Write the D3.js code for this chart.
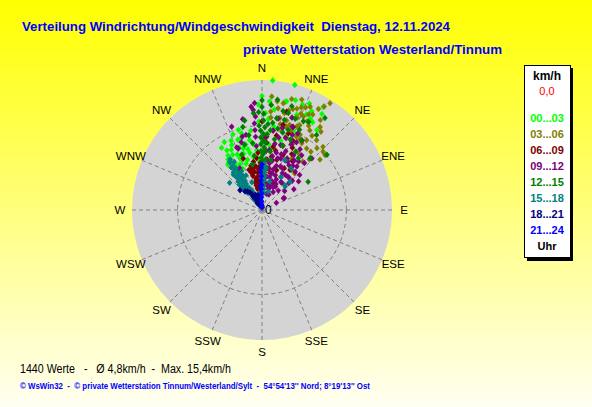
<!DOCTYPE html>
<html>
<head>
<meta charset="utf-8">
<script src="https://cdn.jsdelivr.net/npm/d3@7"></script>
<style>
  body { margin: 0; overflow: hidden; }
  svg { display: block; }
</style>
</head>
<body>
<svg id="chart" width="592" height="407"></svg>
<script>
// compass labels, one every 22.5 degrees
const directions = ['N', 'NNE', 'NE', 'ENE', 'E', 'ESE', 'SE', 'SSE',
                    'S', 'SSW', 'SW', 'WSW', 'W', 'WNW', 'NW', 'NNW']
const legendLabels = ['00...03', '03...06', '06...09', '09...12',
                      '12...15', '15...18', '18...21', '21...24']
const binColors = ['#00ff00', '#808000', '#800000', '#800080',
                   '#008000', '#008080', '#000080', '#0000ff']
const maxSpeed = 15.4
const ringSpeeds = [10]

// [direction in degrees, speed in km/h], per 3 hour block
const h00 = [
  [4.7, 15.4], [14.7, 15.3], [0, 13.5], [4, 12.9], [12, 13.1], [17, 13.6], [26.7, 13.1], [25, 12.5],
  [30.7, 14.2], [26.8, 13.0], [34.4, 11.5], [12.8, 13.2], [343.6, 9.9], [344, 8.9], [350, 8.4],
  [329.5, 8.2], [323, 6.7], [341, 8.8], [343, 7.6], [348, 6.9], [349.5, 5.6], [335, 8.5], [338, 6.4],
  [355, 7.1], [324, 6.8], [337, 6.7], [332, 7.4], [340, 7.9], [346, 8.0], [334, 6.0], [328, 7.6],
  [352, 9.5], [358, 10.5], [3, 9.0], [8, 10.0], [20, 12.0], [22, 10.0], [15, 8.5], [10, 7.5], [356, 6.0],
  [345, 5.0], [2, 11.5], [30, 12.0], [327, 8.8], [331, 9.2], [339, 9.6], [336, 7.2], [344, 6.2],
  [6, 7.8], [18, 9.2], [326, 7.2], [330, 6.4], [333, 8.0], [336, 9.0], [342, 7.0], [347, 7.4],
  [351, 6.4], [353, 7.8], [341, 5.8], [335, 5.4], [329, 5.9], [345, 9.4], [0, 8.0], [4, 10.8],
  [24, 13.8], [28, 12.2], [21, 13.4], [32, 13.4], [7, 12.0], [358, 12.5]
]
const h03 = [
  [4.9, 13.5], [5, 12.5], [5, 11.7], [5.5, 11.0], [11.3, 12.9], [15, 13.6], [19.8, 13.9], [32.5, 15.0],
  [29.2, 13.7], [23.9, 12.1], [22.6, 10.7], [32.6, 9.8], [41.6, 9.8], [46.4, 10.0], [49, 9.1], [25, 8.7],
  [36.6, 5.9], [15.3, 11.0], [11, 11.1], [31, 11.0], [26.9, 10.0], [30.8, 9.2], [44, 10.4], [48.9, 9.9],
  [42, 5.8], [17, 12.5], [21, 13.0], [25, 13.5], [28, 12.8], [18, 11.5], [24, 11.0], [20, 10.0],
  [27, 11.8], [13, 11.8], [9, 12.2], [35, 12.0], [38, 10.5], [22, 12.3], [16, 10.3], [28, 9.5],
  [33, 8.0], [40, 7.5], [19, 9.0], [14, 9.6], [30, 7.0], [36, 9.0], [34, 10.6], [26, 12.6],
  [23, 13.2], [19, 12.7], [15, 12.2], [12, 10.4], [29, 11.4], [33, 12.7], [37, 11.6], [40, 9.0],
  [43, 8.2], [21, 11.7], [25, 9.6], [18, 10.6], [8, 13.0], [31, 14.3]
]
const h06 = [
  [352, 0.8], [352, 1.2], [351, 1.6], [351, 2.0], [350, 2.4], [350, 2.8], [351, 3.2], [352, 3.6],
  [353, 4.0], [354, 4.4], [355, 4.8], [348, 2.6], [347, 3.0], [346, 3.4], [349, 3.8], [345, 4.2],
  [344, 4.6], [356, 3.0], [357, 5.2], [358, 5.6], [342, 5.0], [346, 5.4], [350, 5.8],
  [353, 1.8], [354, 2.4], [355, 3.4], [349, 4.6], [347, 5.0], [352, 5.2], [354, 6.2], [356, 6.8],
  [3.6, 8.7], [13.9, 10.4], [20.6, 10.5], [16.4, 6.2], [10, 7.6], [35, 5.8], [5, 6.0], [8, 5.0],
  [12, 4.5], [20, 5.0], [25, 6.5], [28, 7.5], [18, 8.0], [30, 4.5], [22, 3.5], [15, 3.0], [8, 9.5],
  [0, 10.5], [2, 7.0], [340, 6.5], [330, 5.5], [14, 12.0], [24, 9.0], [32, 6.8], [6, 4.0], [17, 5.2],
  [10, 6.4], [13, 7.2], [21, 7.0], [26, 8.2], [4, 8.0], [11, 9.0], [19, 9.6], [28, 5.6], [7, 3.2]
]
const h09 = [
  [355, 8.7], [355, 9.5], [355, 10.3], [356, 11.1], [355, 11.9], [356, 12.7], [61, 2.9], [63.6, 1.9],
  [38.7, 6.6], [47, 6.1], [10, 5], [12, 6], [14, 7], [16, 8], [18, 9], [20, 6.5], [22, 7.5], [24, 8.5],
  [26, 5.5], [28, 6.5], [30, 7.5], [32, 8.5], [34, 5], [36, 4], [40, 5], [8, 4], [6, 6], [4, 7],
  [15, 4.5], [18, 5.5], [25, 4], [28, 3.5], [20, 3], [12, 3], [45, 4.5], [50, 3.5], [42, 7.5],
  [338, 8], [345, 9], [340, 10.5], [348, 11], [2, 8.5], [8, 9.5], [14, 10], [10, 11], [20, 10.5],
  [30, 9.5], [36, 8.0], [44, 8.5], [52, 5.5], [57, 4.5], [32, 2.5], [40, 3], [5, 3], [24, 2],
  [15, 2], [0, 5.5], [18, 11.5], [25, 10], [354, 12.3], [348, 9.1], [23, 8.9], [38, 5.0],
  [62, 3.0], [339, 7.8], [332, 5.6], [11, 6.5], [19, 7.0], [27, 9.0],
  [13, 4.0], [16, 5.0], [21, 4.4], [23, 5.6], [26, 6.8], [29, 5.0], [31, 6.2], [33, 7.0], [35, 6.4],
  [37, 7.2], [17, 6.4], [19, 3.6], [9, 5.6], [7, 7.2], [11, 8.0], [13, 8.8], [22, 9.6], [26, 3.0],
  [34, 4.0], [41, 6.0], [46, 5.0], [17, 2.6], [30, 3.2], [355, 7.6], [343, 8.4]
]
const h12 = [
  [2, 3.5], [2, 4.2], [2, 5.0], [1, 5.8], [1, 6.6], [2, 7.4], [1, 8.2], [1, 9.0], [2, 9.8], [1, 10.6],
  [1, 11.4], [0, 12.2], [358, 11.6], [358, 10.0], [3, 8.0], [4, 6.0], [3, 7.0],
  [359, 4.6], [359, 5.4], [359, 6.2], [359, 7.0], [359, 7.8], [359, 8.6], [359, 9.4], [4, 9.0], [4, 10.2],
  [42.9, 8.4], [58.6, 6.4], [49.6, 10.1], [29.6, 9.5], [347, 10.1], [355, 11.5], [9.1, 11.0],
  [12, 12.0], [20, 11.5], [25, 10.5], [15, 9.5], [10, 8.5], [8, 7.0], [6, 9.5], [18, 8.0], [22, 9.0],
  [30, 8.0], [35, 7.5], [345, 8.0], [340, 7.0], [350, 9.0], [352, 6.5], [348, 5.5], [0, 13.0],
  [5, 12.5], [8, 13.2], [36, 11.0], [28, 11.8], [16, 12.8], [15.2, 11.9], [25, 11.6], [34.4, 13.2],
  [7, 10.4], [11, 9.8], [14, 11.0], [18, 10.0], [352, 8.0], [349, 10.8], [6, 5.0], [10, 6.0]
]
const h15 = [
  [328, 0.8], [327, 1.3], [326, 1.8], [325, 2.3], [326, 2.8], [327, 3.3], [326, 3.8], [325, 4.3],
  [326, 4.8], [327, 5.3], [326, 5.8], [327, 6.3], [326, 6.8], [321, 2.6], [320, 3.2], [319, 3.8],
  [320, 4.4], [318, 4.0], [322, 5.0], [323, 5.6], [324, 6.2], [330, 4.0], [331, 4.6], [332, 5.2],
  [330, 3.0], [333, 2.5], [322, 1.6], [318, 3.0], [316, 3.5], [328, 7.1],
  [323, 3.0], [322, 3.6], [323, 4.2], [329, 2.0], [330, 2.6], [329, 3.6], [328, 4.4], [329, 5.0],
  [323, 4.8], [321, 5.4], [328, 5.8], [330, 6.6],
  [5, 2.0], [5, 2.5], [4, 3.0], [4, 3.5], [5, 4.0], [4, 4.5], [5, 5.0], [3, 5.5],
  [44.6, 3.9], [42.6, 4.0], [19, 2.3], [15, 3.5], [30, 4.5], [326.5, 6.9], [335, 4.5], [340, 3.5],
  [310, 5.0], [348, 2.0], [25, 6.5], [35, 6.0], [44.7, 4.7]
]
const h18 = [
  [335, 0.5], [333, 0.9], [332, 1.3], [334, 1.7], [336, 2.0], [330, 1.5], [338, 1.0], [340, 1.5],
  [342, 0.7], [328, 2.2], [326, 2.5], [312, 3.5], [318, 3.0], [345, 1.8], [350, 1.2], [355, 0.6],
  [0, 0.4], [325, 1.0], [327, 1.9], [322, 2.8]
]
const h21 = [
  [358, 1.0], [358, 1.5], [359, 2.0], [358, 2.5], [359, 3.0], [358, 3.5], [359, 4.0], [358, 4.5],
  [359, 5.0], [0, 5.4], [358, 0.5], [0, 0.3], [356, 2.8]
]
const bins = [h00, h03, h06, h09, h12, h15, h18, h21]

const svg = d3.select('#chart')
const cx = 262
const cy = 210

// yellow page background
const grad = svg.append('defs').append('linearGradient')
  .attr('id', 'bg')
  .attr('x1', 0).attr('y1', 0).attr('x2', 0).attr('y2', 1)
grad.append('stop').attr('offset', '0%').attr('stop-color', '#ffff00')
grad.append('stop').attr('offset', '100%').attr('stop-color', '#fffff2')
svg.append('rect')
  .attr('width', 592).attr('height', 407)
  .attr('fill', 'url(#bg)')

const r = d3.scaleLinear().domain([0, maxSpeed]).range([0, 130])
const angle = d3.scaleLinear().domain([0, 360]).range([0, 2 * Math.PI])
const px = (dir, v) => cx + r(v) * Math.sin(angle(dir))
const py = (dir, v) => cy - r(v) * Math.cos(angle(dir))

const plot = svg.append('g')

plot.append('circle')
  .attr('cx', cx).attr('cy', cy)
  .attr('r', r(maxSpeed))
  .attr('fill', '#d4d4d4')

plot.selectAll('circle.ring')
  .data(ringSpeeds)
  .join('circle')
  .attr('class', 'ring')
  .attr('cx', cx).attr('cy', cy)
  .attr('r', d => r(d))
  .attr('fill', 'none')
  .attr('stroke', '#808080')
  .attr('stroke-dasharray', '4,3')

plot.selectAll('line.spoke')
  .data(directions)
  .join('line')
  .attr('class', 'spoke')
  .attr('x1', cx).attr('y1', cy)
  .attr('x2', (d, i) => px(i * 22.5, maxSpeed))
  .attr('y2', (d, i) => py(i * 22.5, maxSpeed))
  .attr('stroke', '#808080')
  .attr('stroke-dasharray', '4,3')

svg.selectAll('text.dir')
  .data(directions)
  .join('text')
  .attr('class', 'dir')
  .attr('x', (d, i) => cx + 142 * Math.sin(angle(i * 22.5)))
  .attr('y', (d, i) => cy - 142 * Math.cos(angle(i * 22.5)))
  .attr('text-anchor', 'middle')
  .attr('dominant-baseline', 'central')
  .style('font-family', 'Liberation Sans, Arial, sans-serif')
  .style('font-size', '11.5px')
  .text(d => d)

// one diamond per minute value, drawn in time order
const diamond = (x, y) => `M${x},${y - 3.2}L${x + 2.8},${y}L${x},${y + 3.2}L${x - 2.8},${y}Z`
bins.forEach((pts, idx) => {
  plot.append('g')
    .selectAll('path')
    .data(pts)
    .join('path')
    .attr('d', d => diamond(px(d[0], d[1]), py(d[0], d[1])))
    .attr('fill', binColors[idx])
})

svg.append('text')
  .attr('x', 265).attr('y', 210)
  .attr('dominant-baseline', 'central')
  .style('font-family', 'Liberation Sans, Arial, sans-serif')
  .style('font-size', '12px')
  .text('0')

// titles
svg.append('text')
  .attr('x', 22).attr('y', 31)
  .attr('textLength', 428)
  .attr('lengthAdjust', 'spacingAndGlyphs')
  .style('font-family', 'Liberation Sans, Arial, sans-serif')
  .style('font-size', '13px')
  .style('font-weight', 'bold')
  .style('white-space', 'pre')
  .attr('fill', '#0000ff')
  .text('Verteilung Windrichtung/Windgeschwindigkeit  Dienstag, 12.11.2024')

svg.append('text')
  .attr('x', 243).attr('y', 54)
  .attr('textLength', 259)
  .attr('lengthAdjust', 'spacingAndGlyphs')
  .style('font-family', 'Liberation Sans, Arial, sans-serif')
  .style('font-size', '13px')
  .style('font-weight', 'bold')
  .attr('fill', '#0000ff')
  .text('private Wetterstation Westerland/Tinnum')

// legend box with shadow
svg.append('rect')
  .attr('x', 527).attr('y', 68)
  .attr('width', 46).attr('height', 193)
  .attr('fill', '#000')
svg.append('rect')
  .attr('x', 524.5).attr('y', 65.5)
  .attr('width', 46).attr('height', 192)
  .attr('fill', '#fff')
  .attr('stroke', '#000')

svg.append('text')
  .attr('x', 547).attr('y', 76)
  .attr('text-anchor', 'middle')
  .attr('dominant-baseline', 'central')
  .style('font-family', 'Liberation Sans, Arial, sans-serif')
  .style('font-size', '12px')
  .style('font-weight', 'bold')
  .text('km/h')

svg.append('text')
  .attr('x', 547).attr('y', 91)
  .attr('text-anchor', 'middle')
  .attr('dominant-baseline', 'central')
  .style('font-family', 'Liberation Sans, Arial, sans-serif')
  .style('font-size', '11px')
  .attr('fill', '#ff0000')
  .text('0,0')

svg.selectAll('text.leg')
  .data(legendLabels)
  .join('text')
  .attr('class', 'leg')
  .attr('x', 547)
  .attr('y', (d, i) => 117.5 + i * 16)
  .attr('text-anchor', 'middle')
  .attr('dominant-baseline', 'central')
  .style('font-family', 'Liberation Sans, Arial, sans-serif')
  .style('font-size', '11px')
  .style('font-weight', 'bold')
  .attr('fill', (d, i) => binColors[i])
  .text(d => d)

svg.append('text')
  .attr('x', 547).attr('y', 245.5)
  .attr('text-anchor', 'middle')
  .attr('dominant-baseline', 'central')
  .style('font-family', 'Liberation Sans, Arial, sans-serif')
  .style('font-size', '11px')
  .style('font-weight', 'bold')
  .text('Uhr')

// bottom lines
svg.append('text')
  .attr('x', 20).attr('y', 369)
  .attr('dominant-baseline', 'central')
  .attr('textLength', 211)
  .attr('lengthAdjust', 'spacingAndGlyphs')
  .style('font-family', 'Liberation Sans, Arial, sans-serif')
  .style('font-size', '12px')
  .style('white-space', 'pre')
  .text('1440 Werte   -   \u00d8 4,8km/h  -  Max. 15,4km/h')

svg.append('text')
  .attr('x', 20).attr('y', 385.5)
  .attr('dominant-baseline', 'central')
  .attr('textLength', 350)
  .attr('lengthAdjust', 'spacingAndGlyphs')
  .style('font-family', 'Liberation Sans, Arial, sans-serif')
  .style('font-size', '8.5px')
  .style('font-weight', 'bold')
  .style('white-space', 'pre')
  .attr('fill', '#0000ff')
  .text('\u00a9 WsWin32  -  \u00a9 private Wetterstation Tinnum/Westerland/Sylt  -  54\u00b054\'13\'\' Nord; 8\u00b019\'13\'\' Ost')
</script>
</body>
</html>
